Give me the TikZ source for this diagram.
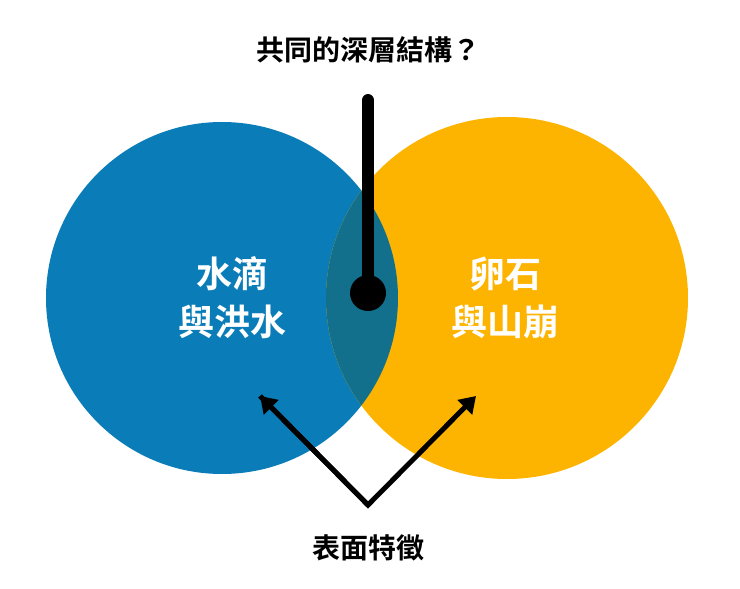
\documentclass[tikz,border=0pt]{standalone}
\usepackage{fontspec}
\newfontfamily\cjk{Noto Sans CJK TC Bold}
\usetikzlibrary{arrows.meta}
\definecolor{cblue}{HTML}{0A7DB8}
\definecolor{corange}{HTML}{FDB400}
\definecolor{cover}{HTML}{13708C}
\tikzset{lbl/.style={font=\cjk\fontsize{28}{34}\selectfont,align=center},
big/.style={font=\cjk\fontsize{36}{48}\selectfont,text=white,align=center},
arr/.style={line width=5pt,-{Triangle[length=16pt,width=20pt]}}}
\begin{document}
\begin{tikzpicture}[x=1pt,y=-1pt]
\useasboundingbox (0,0) rectangle (740,589);
\fill[cblue] (222,298) circle (176);
\fill[corange] (507,298) circle (181);
\begin{scope}
\clip (222,298) circle (176);
\fill[cover] (507,298) circle (181);
\end{scope}
\node[lbl] (top) at (368,50) {共同的深層結構？};
\coordinate (ls) at (368,100);
\node[circle,fill=black,minimum size=36pt,inner sep=0] (dot) at (368,293) {};
\draw[line width=12pt,line cap=round] (ls) -- (dot.center);
\node[big] (w) at (232,298) {水滴\\與洪水};
\node[big] (p) at (505,298) {卵石\\與山崩};
\node[lbl] (bot) at (368,548) {表面特徵};
\coordinate (v) at (368,505);
\coordinate (la) at (260,396);
\coordinate (ra) at (476,396);
\draw[arr,line join=miter] (la) -- (v) -- (ra);
\draw[arr] (v) -- (la);
\end{tikzpicture}
\end{document}
